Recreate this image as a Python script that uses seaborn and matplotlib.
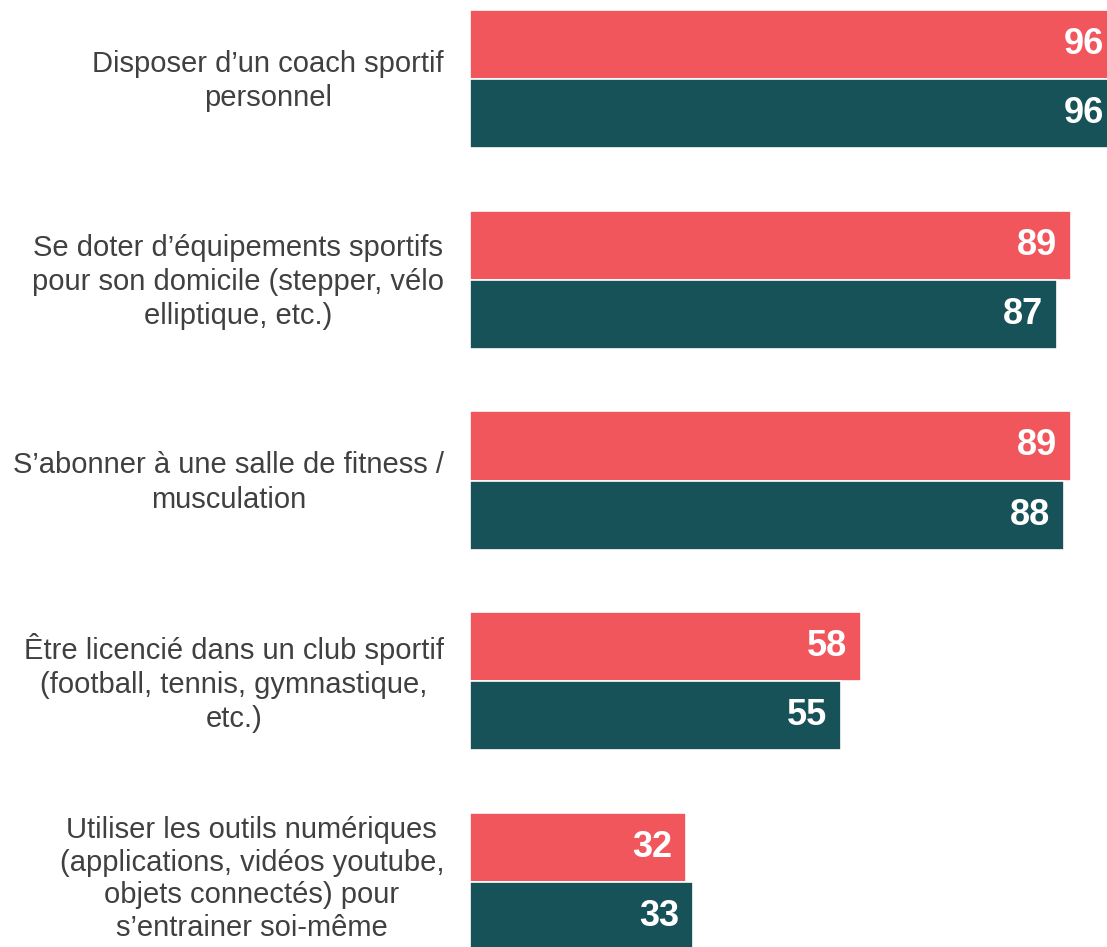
import matplotlib
matplotlib.use("Agg")
import matplotlib.pyplot as plt
import seaborn as sns
import pandas as pd

# %% Data
categories = [
    "Disposer d\u2019un coach sportif\npersonnel",
    "Se doter d\u2019\u00e9quipements sportifs\npour son domicile (stepper, v\u00e9lo\nelliptique, etc.)",
    "S\u2019abonner \u00e0 une salle de fitness /\nmusculation",
    "\u00catre licenci\u00e9 dans un club sportif\n(football, tennis, gymnastique,\netc.)",
    "Utiliser les outils num\u00e9riques\n(applications, vid\u00e9os youtube,\nobjets connect\u00e9s) pour\ns\u2019entrainer soi-m\u00eame",
]
series_names = ["S\u00e9rie 1", "S\u00e9rie 2"]
values_red = [96, 89, 89, 58, 32]
values_teal = [96, 87, 88, 55, 33]
colors = ["#F0565B", "#175259"]


def main():
    sns.set_style("white")
    plt.rcParams["font.family"] = ["Liberation Sans", "DejaVu Sans"]

    df = pd.DataFrame({
        "categorie": categories * 2,
        "serie": [series_names[0]] * len(categories) + [series_names[1]] * len(categories),
        "valeur": values_red + values_teal,
    })

    fig = plt.figure(figsize=(11.07, 9.47), dpi=100)
    ax = fig.add_axes([470 / 1107, 0, 637 / 1107, 1])

    sns.barplot(data=df, y="categorie", x="valeur", hue="serie",
                hue_order=series_names, order=categories, palette=colors,
                saturation=1, orient="h", width=0.69, edgecolor="white",
                linewidth=1.2, legend=False, ax=ax)

    ax.set_xlim(0, 94.4)
    ax.set_ylim(4.324, -0.394)
    ax.set_xlabel("")
    ax.set_ylabel("")
    ax.set_xticks([])
    ax.set_yticks([])
    sns.despine(ax=ax, left=True, bottom=True)

    # category labels, right aligned against the bars, lines centred
    for i, cat in enumerate(categories):
        last = i == len(categories) - 1
        y = i - 0.015 if last else i + 0.01
        ax.text(-26 / 637, y, cat, transform=ax.get_yaxis_transform(),
                ha="right", va="center", multialignment="center",
                linespacing=1.22 if last else 1.28, fontsize=21,
                color="#404040")

    # values inside the bar ends
    for cont in ax.containers:
        for bar in cont:
            w = bar.get_width()
            ax.annotate(f"{w:.0f}", xy=(w, bar.get_y() + bar.get_height() / 2),
                        xytext=(-10, 0), textcoords="offset points",
                        ha="right", va="center", color="white",
                        fontsize=26, fontweight="bold", annotation_clip=False)

    fig.savefig("out.png", dpi=100)


if __name__ == "__main__":
    main()
